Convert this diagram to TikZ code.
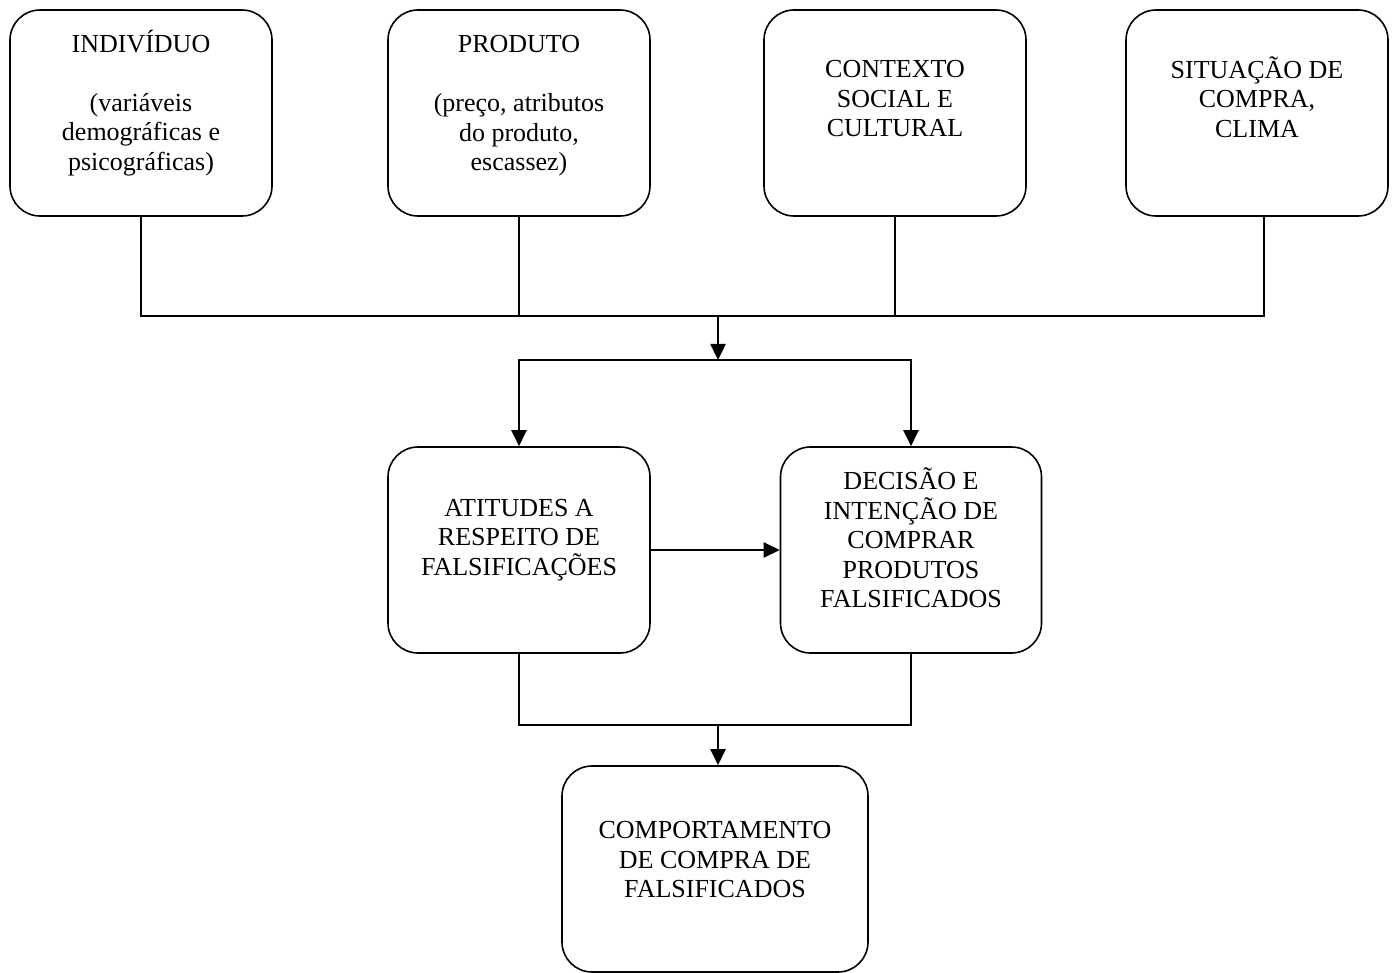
\documentclass[tikz,border=0pt]{standalone}
\usepackage{fontspec}
\setmainfont{Liberation Serif}
\usetikzlibrary{arrows.meta}

\begin{document}
\begin{tikzpicture}[x=1pt,y=-1pt,>={Triangle[length=16pt,width=15pt]},
  box/.style={draw,line width=1.6pt,rounded corners=30pt,minimum width=262pt,minimum height=206pt,inner sep=0pt},
  txt/.style={align=center,font=\fontsize{26}{29.5}\selectfont,inner sep=0pt},
  link/.style={line width=1.6pt},
  flow/.style={->,line width=2.4pt}]
\useasboundingbox (0,0) rectangle (1394,973);
% fatores
\node[box] (ind) at (141,113) {};
\node[box] (prod) at (519,113) {};
\node[box] (ctx) at (895,113) {};
\node[box] (sit) at (1257,113) {};
\node[txt] (indtxt) at (141,103) {INDIVÍDUO\\[29.5pt](variáveis\\demográficas e\\psicográficas)};
\node[txt] (prodtxt) at (519,106) {PRODUTO\\[29.5pt](preço, atributos\\do produto,\\escassez)};
\node[txt] (ctxtxt) at (895,99) {CONTEXTO\\SOCIAL E\\CULTURAL};
\node[txt] (sittxt) at (1257,97) {SITUAÇÃO DE\\COMPRA,\\CLIMA};
% atitudes e decisao
\node[box] (att) at (519,550) {};
\node[box,minimum width=261pt] (dec) at (911,550) {};
\node[txt] (atttxt) at (519,540) {ATITUDES A\\RESPEITO DE\\FALSIFICAÇÕES};
\node[txt] (dectxt) at (911,538) {DECISÃO E\\INTENÇÃO DE\\COMPRAR\\PRODUTOS\\FALSIFICADOS};
% comportamento
\node[box,minimum width=306pt] (comp) at (715,869) {};
\node[txt] (comptxt) at (715,860) {COMPORTAMENTO\\DE COMPRA DE\\FALSIFICADOS};
% conexoes
\coordinate (bus) at (718,316);
\coordinate (fork) at (718,360);
\coordinate (merge) at (718,725);
\coordinate (sitout) at ([xshift=7pt]sit.south);
\draw[link] (ind.south) |- (sitout |- bus) -- (sitout);
\draw[link] (prod.south) -- (prod.south |- bus);
\draw[link] (ctx.south) -- (ctx.south |- bus);
\draw[flow] (bus) -- (fork);
\draw[flow] (fork) -| (att.north);
\draw[flow] (fork) -| (dec.north);
\draw[flow] (att.east) -- (dec.west);
\draw[link] (att.south) |- (merge) -| (dec.south);
\draw[flow] (merge) -- (merge |- comp.north);
\end{tikzpicture}
\end{document}
